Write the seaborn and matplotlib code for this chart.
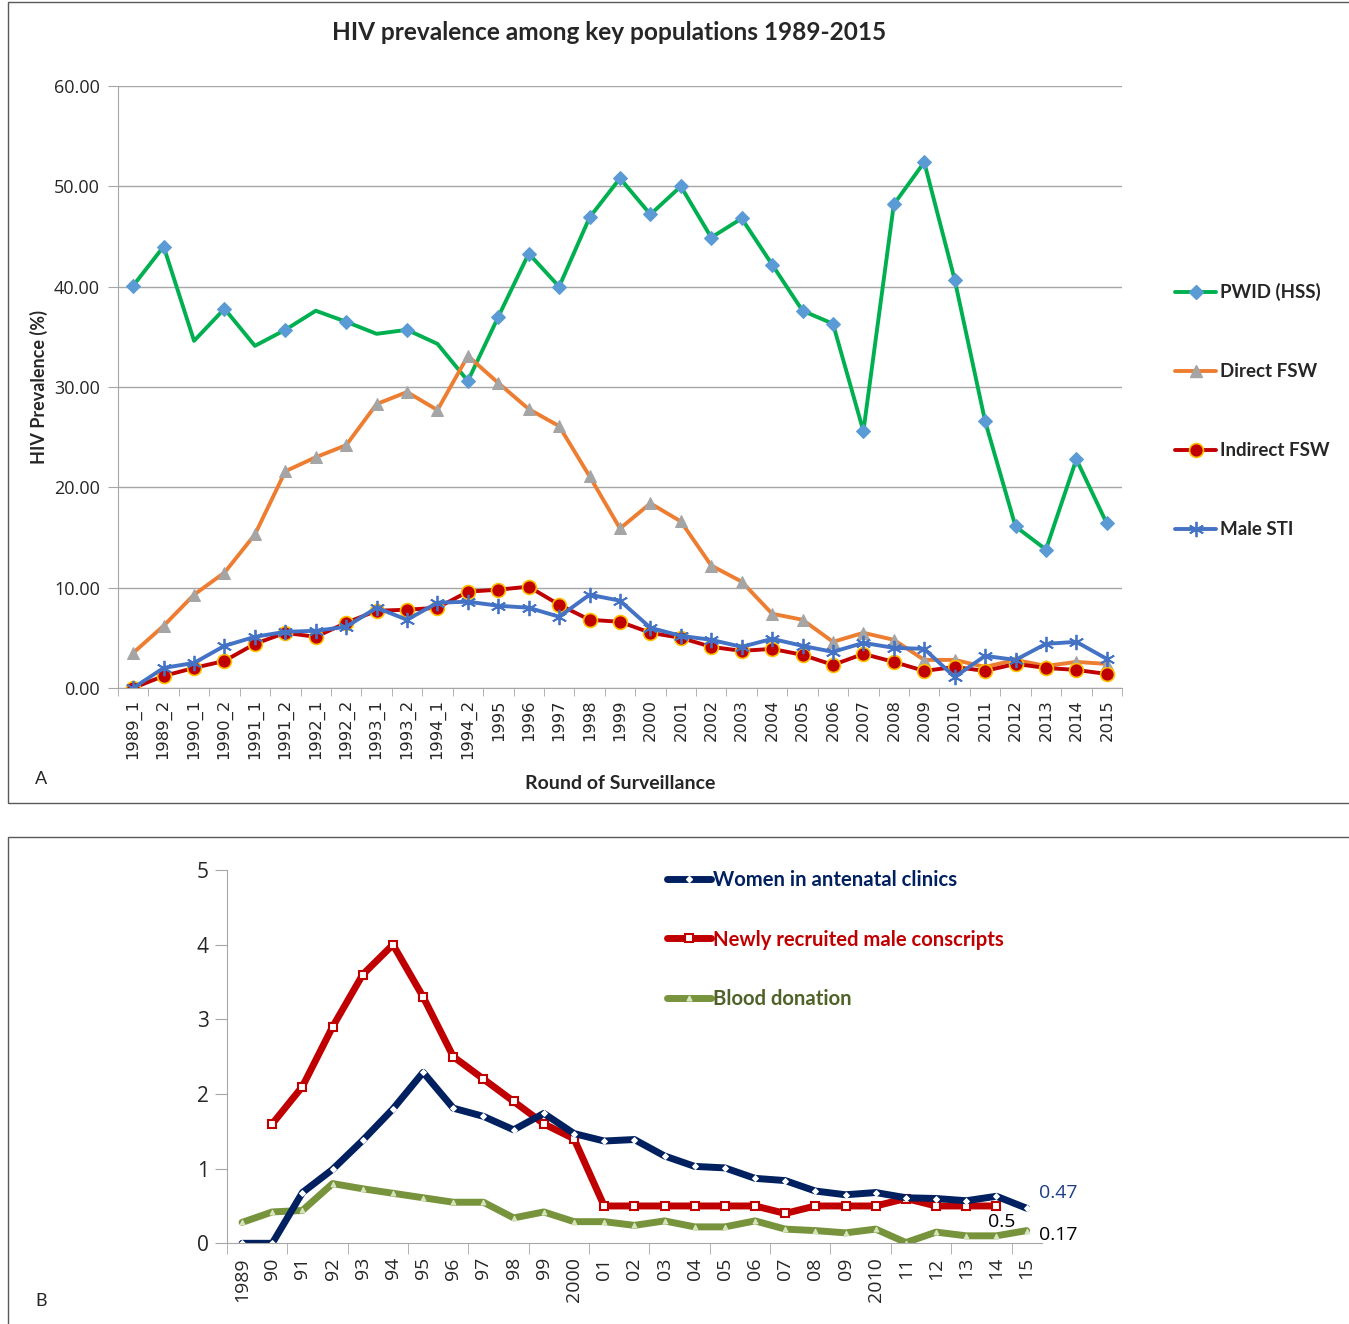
import numpy as np
import pandas as pd
import seaborn as sns
import matplotlib.pyplot as plt
from matplotlib.lines import Line2D
from matplotlib.patches import Rectangle

# ---- panel A data: HIV prevalence among key populations (%)
rounds = ["1989_1", "1989_2", "1990_1", "1990_2", "1991_1", "1991_2",
          "1992_1", "1992_2", "1993_1", "1993_2", "1994_1", "1994_2",
          "1995", "1996", "1997", "1998", "1999", "2000", "2001", "2002",
          "2003", "2004", "2005", "2006", "2007", "2008", "2009", "2010",
          "2011", "2012", "2013", "2014", "2015"]
pwid = [40.1, 44.0, 34.6, 37.8, 34.1, 35.7, 37.6, 36.5, 35.3, 35.7, 34.3, 30.6,
        37.0, 43.3, 40.0, 46.9, 50.8, 47.2, 50.0, 44.9, 46.8, 42.2, 37.6, 36.3,
        25.6, 48.2, 52.4, 40.7, 26.6, 16.1, 13.8, 22.8, 16.4]
direct_fsw = [3.5, 6.2, 9.3, 11.5, 15.3, 21.6, 23.0, 24.2, 28.3, 29.5, 27.7, 33.1,
              30.4, 27.8, 26.1, 21.1, 15.9, 18.4, 16.6, 12.2, 10.6, 7.4, 6.8, 4.6,
              5.5, 4.8, 2.8, 2.8, 2.1, 2.8, 2.2, 2.6, 2.4]
indirect_fsw = [0.0, 1.2, 2.0, 2.7, 4.4, 5.5, 5.1, 6.5, 7.7, 7.8, 8.0, 9.6,
                9.8, 10.1, 8.3, 6.8, 6.6, 5.5, 5.0, 4.1, 3.7, 3.9, 3.3, 2.3,
                3.4, 2.6, 1.7, 2.1, 1.7, 2.4, 2.0, 1.8, 1.4]
male_sti = [0.0, 2.0, 2.5, 4.2, 5.1, 5.6, 5.7, 6.1, 8.0, 6.8, 8.5, 8.6,
            8.2, 8.0, 7.1, 9.3, 8.7, 6.0, 5.2, 4.8, 4.1, 4.9, 4.2, 3.6,
            4.5, 4.0, 3.9, 1.1, 3.2, 2.8, 4.4, 4.6, 2.9]
# rounds where the PWID series carries a marker
pwid_marked = [0, 1, 3, 5, 7, 9, 11] + list(range(12, 33))

# ---- panel B data: general population (%)
years_b = ["1989", "90", "91", "92", "93", "94", "95", "96", "97", "98", "99",
           "2000", "01", "02", "03", "04", "05", "06", "07", "08", "09",
           "2010", "11", "12", "13", "14", "15"]
antenatal = [0.0, 0.0, 0.68, 0.99, 1.38, 1.80, 2.29, 1.81, 1.70, 1.52, 1.74,
             1.47, 1.37, 1.39, 1.17, 1.03, 1.01, 0.87, 0.84, 0.70, 0.65,
             0.68, 0.61, 0.60, 0.57, 0.63, 0.47]
conscripts = [np.nan, 1.6, 2.1, 2.9, 3.6, 4.0, 3.3, 2.5, 2.2, 1.9, 1.6,
              1.4, 0.5, 0.5, 0.5, 0.5, 0.5, 0.5, 0.4, 0.5, 0.5,
              0.5, 0.6, 0.5, 0.5, 0.5, np.nan]
blood = [0.28, 0.42, 0.44, 0.80, 0.73, 0.67, 0.61, 0.55, 0.55, 0.34, 0.42,
         0.29, 0.29, 0.24, 0.30, 0.22, 0.22, 0.30, 0.19, 0.17, 0.14,
         0.19, 0.01, 0.15, 0.10, 0.10, 0.17]

sns.set_style("white")
plt.rcParams["font.family"] = ["Lato", "DejaVu Sans"]

W, H = 1349, 1324
fig = plt.figure(figsize=(W / 100, H / 100), dpi=100)

# panel frames
fig.add_artist(Rectangle((8 / W, 1 - 803 / H), 1.2, 801 / H, transform=fig.transFigure,
                         fill=False, edgecolor="#595959", lw=1))
fig.add_artist(Rectangle((8 / W, -0.2), 1.2, 0.2 + 1 - 837 / H, transform=fig.transFigure,
                         fill=False, edgecolor="#595959", lw=1))

# ================= panel A =================
axA = fig.add_axes([118 / W, 1 - 688 / H, (1122 - 118) / W, 602 / H])
dfa = pd.DataFrame({"pos": np.arange(len(rounds)), "pwid": pwid, "direct": direct_fsw,
                    "indirect": indirect_fsw, "sti": male_sti})

sns.lineplot(data=dfa, x="pos", y="pwid", ax=axA, color="#00B050", lw=2.8,
             marker="D", markevery=pwid_marked, ms=7.5, mfc="#5B9BD5", mec="#5B9BD5")
sns.lineplot(data=dfa, x="pos", y="direct", ax=axA, color="#ED7D31", lw=2.8,
             marker="^", ms=9, mfc="#A5A5A5", mec="#A5A5A5")
sns.lineplot(data=dfa, x="pos", y="indirect", ax=axA, color="#C00000", lw=2.8,
             marker="o", ms=10, mfc="#C00000", mec="#FFC000", mew=1.2)
sns.lineplot(data=dfa, x="pos", y="sti", ax=axA, color="#4472C4", lw=2.8,
             marker=(6, 2, 0), ms=11, mec="#4472C4", mew=1.3)

axA.set_xlim(-0.5, len(rounds) - 0.5)
axA.set_ylim(0, 60)
axA.set_yticks(np.arange(0, 61, 10))
axA.set_yticklabels([f"{v:.2f}" for v in range(0, 61, 10)],
                    fontfamily="Open Sans", fontsize=13)
axA.set_xticks(np.arange(len(rounds)))
axA.set_xticklabels(rounds, rotation=90, fontfamily="DejaVu Sans", fontsize=11.8)
axA.set_xticks(np.arange(len(rounds) + 1) - 0.5, minor=True)
axA.tick_params(axis="x", which="major", length=0, pad=8)
axA.tick_params(axis="x", which="minor", length=6, color="#A6A6A6", direction="out", bottom=True)
axA.tick_params(axis="y", length=7, color="#A6A6A6", direction="out", left=True, pad=6)
axA.grid(axis="y", color="#A6A6A6", lw=1)
for s in ["top", "right"]:
    axA.spines[s].set_visible(False)
for s in ["left", "bottom"]:
    axA.spines[s].set_color("#A6A6A6")
axA.set_ylabel("HIV Prevalence (%)", fontsize=13, fontweight="bold", labelpad=4)
axA.set_xlabel("Round of Surveillance", fontsize=14, fontweight="bold", labelpad=11)

fig.text(609 / W, 1 - 33 / H, "HIV prevalence among key populations 1989-2015",
         ha="center", va="center", fontsize=17.6, fontweight="bold")
fig.text(41 / W, 1 - 779 / H, "A", ha="center", va="center", fontsize=13)

handles_a = [
    Line2D([], [], color="#00B050", lw=2.8, marker="D", ms=7.5, mfc="#5B9BD5", mec="#5B9BD5"),
    Line2D([], [], color="#ED7D31", lw=2.8, marker="^", ms=9, mfc="#A5A5A5", mec="#A5A5A5"),
    Line2D([], [], color="#C00000", lw=2.8, marker="o", ms=10, mfc="#C00000", mec="#FFC000", mew=1.2),
    Line2D([], [], color="#4472C4", lw=2.8, marker=(6, 2, 0), ms=11, mec="#4472C4", mew=1.3),
]
fig.legend(handles_a, ["PWID (HSS)", "Direct FSW", "Indirect FSW", "Male STI"],
           loc="upper left", bbox_to_anchor=(1175 / W, 1 - 283 / H), frameon=False,
           borderpad=0, borderaxespad=0, handlelength=2.2, handletextpad=0.2,
           labelspacing=3.31, prop={"weight": "bold", "size": 13.5})

# ================= panel B =================
axB = fig.add_axes([227 / W, 1 - 1243.3 / H, (1041.7 - 227) / W, (1243.3 - 870) / H])
dfb = pd.DataFrame({"pos": np.arange(len(years_b)), "antenatal": antenatal,
                    "conscripts": conscripts, "blood": blood})

sns.lineplot(data=dfb, x="pos", y="blood", ax=axB, color="#77933C", lw=5,
             marker="^", ms=3.5, mfc="#D7E4BD", mec="#D7E4BD", solid_joinstyle="round")
sns.lineplot(data=dfb.dropna(), x="pos", y="conscripts", ax=axB, color="#C00000", lw=5,
             marker="s", ms=6, mfc="white", mec="#C00000", mew=1.5, solid_joinstyle="round")
sns.lineplot(data=dfb, x="pos", y="antenatal", ax=axB, color="#002060", lw=5,
             marker="D", ms=3, mfc="white", mec="white", solid_joinstyle="round")

axB.set_xlim(-0.5, len(years_b) - 0.5)
axB.set_ylim(0, 5)
axB.set_yticks(range(0, 6))
axB.set_yticklabels([str(v) for v in range(0, 6)], fontfamily="Open Sans", fontsize=15)
axB.set_xticks(np.arange(len(years_b)))
axB.set_xticklabels(years_b, rotation=90, fontfamily="Open Sans", fontsize=14)
axB.set_xticks(np.arange(-0.5, len(years_b), 2), minor=True)
axB.tick_params(axis="x", which="major", length=0, pad=10)
axB.tick_params(axis="x", which="minor", length=8, color="#A6A6A6", direction="out", bottom=True)
axB.tick_params(axis="y", length=9, color="#A6A6A6", direction="out", left=True, pad=4)
for s in ["top", "right"]:
    axB.spines[s].set_visible(False)
for s in ["left", "bottom"]:
    axB.spines[s].set_color("#A6A6A6")
axB.set_xlabel("")
axB.set_ylabel("")

# end-of-series value labels
axB.annotate(f"{antenatal[-1]:.2f}", xy=(len(years_b) - 1, antenatal[-1]), xytext=(9, 11),
             textcoords="offset points", ha="left", va="center", color="#1F3C88",
             fontfamily="Open Sans", fontsize=14)
axB.annotate(f"{conscripts[-2]:g}", xy=(len(years_b) - 2, conscripts[-2]), xytext=(4, -11.5),
             textcoords="offset points", ha="center", va="center", color="black",
             fontfamily="Open Sans", fontsize=14)
axB.annotate(f"{blood[-1]:.2f}", xy=(len(years_b) - 1, blood[-1]), xytext=(9, -3),
             textcoords="offset points", ha="left", va="center", color="black",
             fontfamily="Open Sans", fontsize=14)

handles_b = [
    Line2D([], [], color="#002060", lw=5, marker="D", ms=3, mfc="white", mec="white"),
    Line2D([], [], color="#C00000", lw=5, marker="s", ms=6, mfc="white", mec="#C00000", mew=1.5),
    Line2D([], [], color="#77933C", lw=5, marker="^", ms=3.5, mfc="#D7E4BD", mec="#D7E4BD"),
]
leg_b = fig.legend(handles_b, ["Women in antenatal clinics", "Newly recruited male conscripts",
                               "Blood donation"],
                   loc="upper left", bbox_to_anchor=(667 / W, 1 - 870 / H), frameon=False,
                   borderpad=0, borderaxespad=0, handlelength=2.15, handletextpad=0.1,
                   labelspacing=1.95, prop={"weight": "bold", "size": 14.6})
for txt, col in zip(leg_b.get_texts(), ["#002060", "#C00000", "#4F6228"]):
    txt.set_color(col)

fig.text(41 / W, 1 - 1301 / H, "B", ha="center", va="center", fontsize=13)

fig.savefig("out.png", dpi=100)
